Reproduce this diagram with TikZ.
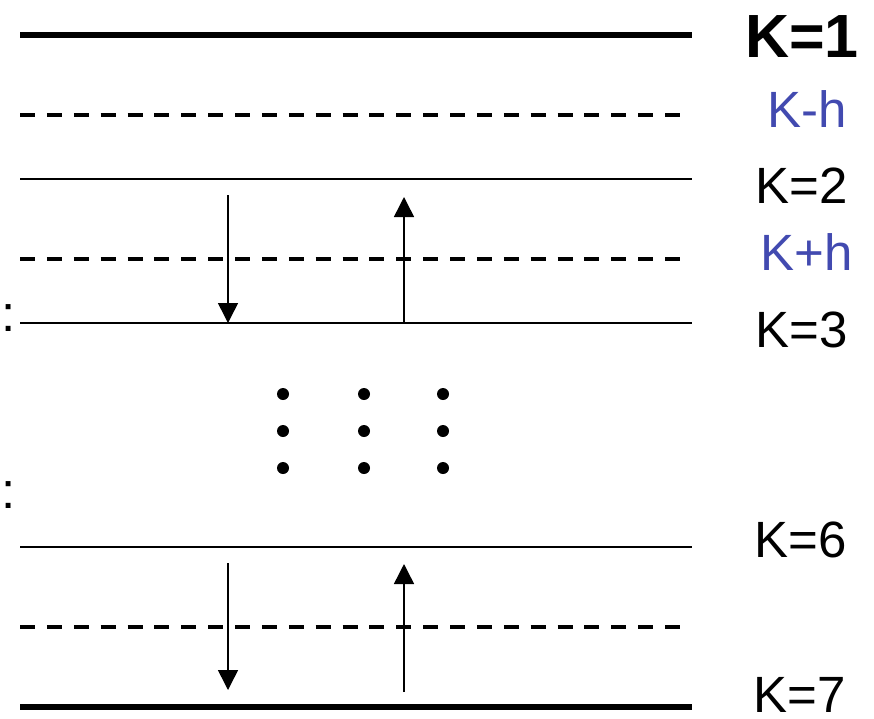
\documentclass[tikz,border=0pt]{standalone}
\usepackage{fontspec}
\setmainfont{Liberation Sans}
\usetikzlibrary{arrows.meta}
\definecolor{levelblue}{RGB}{66,74,176}
\begin{document}
\begin{tikzpicture}[x=1pt,y=-1pt,
  thickline/.style={line width=6pt},
  thinline/.style={line width=1.4pt},
  halfline/.style={line width=3.5pt, dash pattern=on 15pt off 11.875pt},
  flow/.style={line width=1.5pt, -{Triangle[width=20pt,length=20pt]}},
  lbl/.style={anchor=base, inner sep=0pt, font=\fontsize{51}{60}\selectfont},
  boldlbl/.style={lbl, font=\fontsize{61}{70}\selectfont\bfseries},
  hlbl/.style={lbl, text=levelblue},
  colon/.style={anchor=base west, inner sep=0pt, font=\fontsize{51}{60}\selectfont},
  dot/.style={fill=black}
]
\useasboundingbox (0,0) rectangle (874,718);

% integer levels and half levels
\draw[thickline] (20,35) -- (692,35);
\draw[halfline]  (20,115) -- (680,115);
\draw[thinline]  (20,179) -- (692,179);
\draw[halfline]  (20,259) -- (680,259);
\draw[thinline]  (20,323) -- (692,323);
\draw[thinline]  (20,547) -- (692,547);
\draw[halfline]  (20,627) -- (680,627);
\draw[thickline] (20,707) -- (692,707);

% level labels
\node[boldlbl] (k1)  at (802,57)  {K=1};
\node[hlbl]    (kmh) at (807,127) {K-h};
\node[lbl]     (k2)  at (802,203) {K=2};
\node[hlbl]    (kph) at (807,270) {K+h};
\node[lbl]     (k3)  at (802,347) {K=3};
\node[lbl]     (k6)  at (801,557) {K=6};
\node[lbl]     (k7)  at (800,712) {K=7};

% colons at the left edge
\node[colon] (c1) at (1,331) {:};
\node[colon] (c2) at (1,508) {:};

% arrow end points on the levels
\coordinate (a1s) at (228,195);
\coordinate (a1e) at (228,323);
\coordinate (a2s) at (404,323);
\coordinate (a2e) at (404,197);
\coordinate (a3s) at (228,563);
\coordinate (a3e) at (228,690);
\coordinate (a4s) at (404,692);
\coordinate (a4e) at (404,564);

\draw[flow] (a1s) -- (a1e);
\draw[flow] (a2s) -- (a2e);
\draw[flow] (a3s) -- (a3e);
\draw[flow] (a4s) -- (a4e);

% vertical ellipsis dots
\foreach \x in {283,364,443}
  \foreach \y in {394,431,468}
    \fill[dot] (\x,\y) circle (6);
\end{tikzpicture}
\end{document}
